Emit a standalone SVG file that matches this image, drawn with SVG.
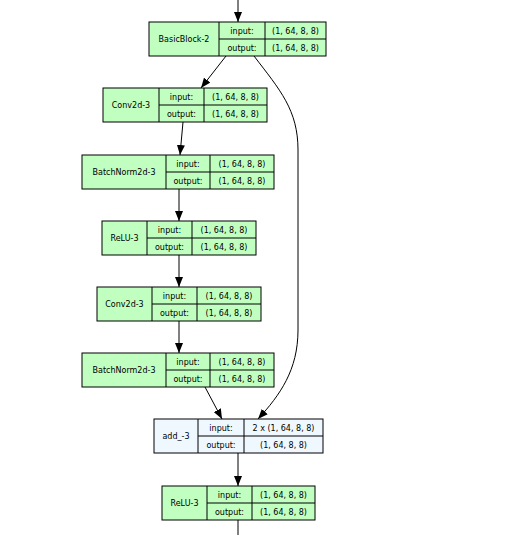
<svg xmlns="http://www.w3.org/2000/svg" width="524" height="535" viewBox="0 0 524 535">
<style>
.n{fill:#c1ffc1;stroke:#000;stroke-width:1}
.a{fill:#f0f8ff;stroke:#000;stroke-width:1}
.l{stroke:#000;stroke-width:1;fill:none}
text{font-family:"DejaVu Sans",sans-serif;font-size:8px;text-anchor:middle;fill:#000}
.e{stroke:#000;stroke-width:1;fill:none}
</style>
<defs>
<marker id="ah" markerUnits="userSpaceOnUse" markerWidth="10" markerHeight="8" refX="10" refY="4" orient="auto">
<path d="M0,0 L10,4 L0,8 Z" fill="#000"/>
</marker>
</defs>
<rect width="524" height="535" fill="#fff"/>
<g id="edges">
<path class="e" d="M238,0 V22" marker-end="url(#ah)"/>
<path class="e" d="M226,56 L201,88" marker-end="url(#ah)"/>
<path class="e" d="M254,56 C280,90 298,110 298,150 V330 C298,370 280,395 258,419" marker-end="url(#ah)"/>
<path class="e" d="M183,122 L180,155" marker-end="url(#ah)"/>
<path class="e" d="M179,189 V221" marker-end="url(#ah)"/>
<path class="e" d="M179,255 V287" marker-end="url(#ah)"/>
<path class="e" d="M179,321 V353" marker-end="url(#ah)"/>
<path class="e" d="M205,387 L222,419" marker-end="url(#ah)"/>
<path class="e" d="M238,453 V486" marker-end="url(#ah)"/>
<path class="e" d="M238,520 V535"/>
</g>
<g id="BasicBlock-2">
<rect class="n" x="149" y="22" width="177" height="34"/>
<path class="l" d="M219,22 V56 M265,22 V56 M219,39 H326"/>
<text x="184" y="42">BasicBlock-2</text>
<text x="242" y="34">input:</text><text x="242" y="51">output:</text>
<text x="295.5" y="34">(1, 64, 8, 8)</text><text x="295.5" y="51">(1, 64, 8, 8)</text>
</g>
<g id="Conv2d-3a">
<rect class="n" x="103" y="88" width="164" height="34"/>
<path class="l" d="M159,88 V122 M204,88 V122 M159,105 H267"/>
<text x="131" y="108">Conv2d-3</text>
<text x="181.5" y="100">input:</text><text x="181.5" y="117">output:</text>
<text x="235.5" y="100">(1, 64, 8, 8)</text><text x="235.5" y="117">(1, 64, 8, 8)</text>
</g>
<g id="BatchNorm2d-3a">
<rect class="n" x="82" y="155" width="192" height="34"/>
<path class="l" d="M166,155 V189 M210,155 V189 M166,172 H274"/>
<text x="124" y="175">BatchNorm2d-3</text>
<text x="188" y="167">input:</text><text x="188" y="184">output:</text>
<text x="242" y="167">(1, 64, 8, 8)</text><text x="242" y="184">(1, 64, 8, 8)</text>
</g>
<g id="ReLU-3a">
<rect class="n" x="102" y="221" width="154" height="34"/>
<path class="l" d="M147,221 V255 M192,221 V255 M147,238 H256"/>
<text x="124.5" y="241">ReLU-3</text>
<text x="169.5" y="233">input:</text><text x="169.5" y="250">output:</text>
<text x="224" y="233">(1, 64, 8, 8)</text><text x="224" y="250">(1, 64, 8, 8)</text>
</g>
<g id="Conv2d-3b">
<rect class="n" x="97" y="287" width="164" height="34"/>
<path class="l" d="M152,287 V321 M197,287 V321 M152,304 H261"/>
<text x="124.5" y="307">Conv2d-3</text>
<text x="174.5" y="299">input:</text><text x="174.5" y="316">output:</text>
<text x="229" y="299">(1, 64, 8, 8)</text><text x="229" y="316">(1, 64, 8, 8)</text>
</g>
<g id="BatchNorm2d-3b">
<rect class="n" x="82" y="353" width="192" height="34"/>
<path class="l" d="M166,353 V387 M210,353 V387 M166,370 H274"/>
<text x="124" y="373">BatchNorm2d-3</text>
<text x="188" y="365">input:</text><text x="188" y="382">output:</text>
<text x="242" y="365">(1, 64, 8, 8)</text><text x="242" y="382">(1, 64, 8, 8)</text>
</g>
<g id="add_-3">
<rect class="a" x="154" y="419" width="169" height="34"/>
<path class="l" d="M198,419 V453 M244,419 V453 M198,436 H323"/>
<text x="176" y="439">add_-3</text>
<text x="221" y="431">input:</text><text x="221" y="448">output:</text>
<text x="283.5" y="431">2 x (1, 64, 8, 8)</text><text x="283.5" y="448">(1, 64, 8, 8)</text>
</g>
<g id="ReLU-3b">
<rect class="n" x="162" y="486" width="153" height="34"/>
<path class="l" d="M207,486 V520 M252,486 V520 M207,503 H315"/>
<text x="184.5" y="506">ReLU-3</text>
<text x="229.5" y="498">input:</text><text x="229.5" y="515">output:</text>
<text x="283.5" y="498">(1, 64, 8, 8)</text><text x="283.5" y="515">(1, 64, 8, 8)</text>
</g>
</svg>
